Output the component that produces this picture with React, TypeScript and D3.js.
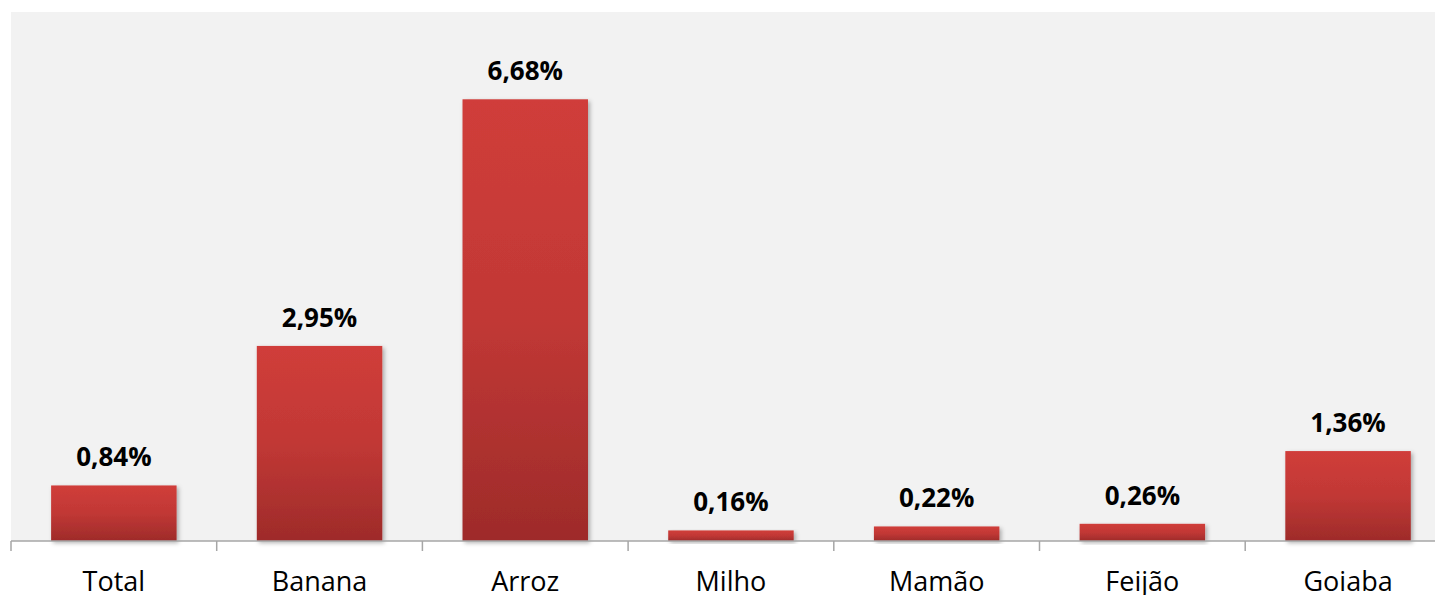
import React, { useEffect, useRef } from 'react';
import * as d3 from 'd3';

const categories = ['Total', 'Banana', 'Arroz', 'Milho', 'Mamão', 'Feijão', 'Goiaba'];
const values = [0.84, 2.95, 6.68, 0.16, 0.22, 0.26, 1.36];
const valueLabels = ['0,84%', '2,95%', '6,68%', '0,16%', '0,22%', '0,26%', '1,36%'];

const W = 1435;
const H = 595;

const App: React.FC = () => {
  const ref = useRef<SVGSVGElement>(null);

  useEffect(() => {
    if (!ref.current) return;
    const svg = d3.select(ref.current);
    svg.selectAll('*').remove();

    const left = 11;
    const top = 12;
    const baseline = 541;
    const right = left + 205.7 * categories.length;

    const x = d3.scaleBand<string>().domain(categories).range([left, right]).paddingInner(0.39).paddingOuter(0.195);
    const y = d3.scaleLinear().domain([0, 8]).range([baseline, top]);

    const defs = svg.append('defs');
    const grad = defs
      .append('linearGradient')
      .attr('id', 'barGrad')
      .attr('x1', 0)
      .attr('y1', 0)
      .attr('x2', 0)
      .attr('y2', 1);
    grad.append('stop').attr('offset', '0%').attr('stop-color', '#d03d3a');
    grad.append('stop').attr('offset', '50%').attr('stop-color', '#c13835');
    grad.append('stop').attr('offset', '100%').attr('stop-color', '#9e2b2a');

    const shadow = defs
      .append('filter')
      .attr('id', 'shadow')
      .attr('x', '-10%')
      .attr('y', '-10%')
      .attr('width', '130%')
      .attr('height', '130%');
    shadow
      .append('feDropShadow')
      .attr('dx', 2)
      .attr('dy', 2)
      .attr('stdDeviation', 2)
      .attr('flood-color', '#000')
      .attr('flood-opacity', 0.3);

    // plot background
    svg
      .append('rect')
      .attr('x', left)
      .attr('y', top)
      .attr('width', W - left)
      .attr('height', baseline - top)
      .attr('fill', '#f2f2f2');

    // bars
    svg
      .append('g')
      .selectAll('rect')
      .data(values)
      .enter()
      .append('rect')
      .attr('x', (d, i) => x(categories[i]) || 0)
      .attr('y', (d) => y(d))
      .attr('width', x.bandwidth())
      .attr('height', (d) => baseline - y(d))
      .attr('fill', 'url(#barGrad)')
      .attr('filter', 'url(#shadow)');

    // value labels
    svg
      .append('g')
      .selectAll('text')
      .data(values)
      .enter()
      .append('text')
      .attr('x', (d, i) => (x(categories[i]) || 0) + x.bandwidth() / 2)
      .attr('y', (d) => y(d) - 19)
      .attr('text-anchor', 'middle')
      .attr('font-family', '"Open Sans", sans-serif')
      .attr('font-weight', 'bold')
      .attr('font-size', 26)
      .attr('fill', '#000')
      .text((d, i) => valueLabels[i]);

    // axis line + ticks
    const axis = svg.append('g').attr('stroke', '#a6a6a6').attr('stroke-width', 1.5);
    axis.append('line').attr('x1', left).attr('x2', W).attr('y1', baseline).attr('y2', baseline);
    const step = x.step();
    const tickXs = d3.range(categories.length + 1).map((i) => left + i * step);
    axis
      .selectAll('line.tick')
      .data(tickXs)
      .enter()
      .append('line')
      .attr('class', 'tick')
      .attr('x1', (d) => d)
      .attr('x2', (d) => d)
      .attr('y1', baseline)
      .attr('y2', baseline + 10);

    // category labels (cut at the bottom edge, as in the original)
    svg
      .append('g')
      .selectAll('text')
      .data(categories)
      .enter()
      .append('text')
      .attr('x', (d) => (x(d) || 0) + x.bandwidth() / 2)
      .attr('y', 591)
      .attr('text-anchor', 'middle')
      .attr('font-family', '"Open Sans", sans-serif')
      .attr('font-size', 27)
      .attr('fill', '#000')
      .text((d) => d);

    return () => {
      svg.selectAll('*').remove();
    };
  }, []);

  return (
    <svg
      ref={ref}
      width={W}
      height={H}
      style={{ position: 'absolute', left: 0, top: 0, background: '#fff' }}
    ></svg>
  );
};

export default App;
